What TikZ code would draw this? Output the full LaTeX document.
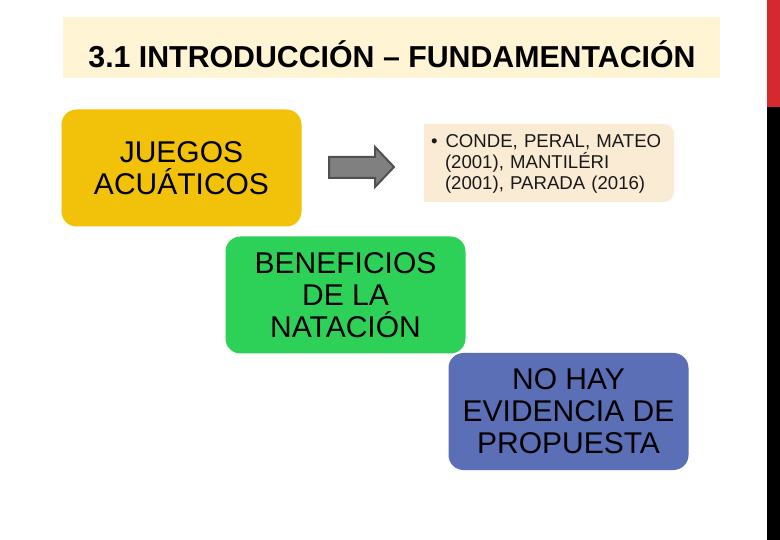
\documentclass[tikz,border=0pt]{standalone}
\usepackage{fontspec}
\setmainfont{Liberation Sans}
\usetikzlibrary{backgrounds}
\definecolor{titleCream}{HTML}{FFF4D4}
\definecolor{juegoYellow}{HTML}{F2C10A}
\definecolor{benefGreen}{HTML}{2ED158}
\definecolor{propBlue}{HTML}{5B6FB6}
\definecolor{citePeach}{HTML}{FAEBD4}
\definecolor{barRed}{HTML}{D42A2F}
\definecolor{arrowGray}{HTML}{808080}
\definecolor{arrowEdge}{HTML}{505050}
\begin{document}
\begin{tikzpicture}[x=1pt,y=-1pt,
    slideBig/.style={rounded corners=15pt,inner sep=0pt,align=center,
        minimum width=240pt,minimum height=117pt,
        font=\fontsize{30}{32}\selectfont},
    slideCite/.style={inner sep=7pt,text width=236pt,align=left,
        minimum width=250pt,minimum height=78pt,
        font=\fontsize{18.6}{21}\selectfont,text=black!90},
    slideArrow/.style={fill=arrowGray,draw=arrowEdge,line width=2pt},
]
\useasboundingbox (0,0) rectangle (780,540);
% Side bar
\fill[barRed] (767,0) rectangle (780,107);
\fill[black] (767,107) rectangle (780,540);
% Title
\fill[titleCream] (63,17) rectangle (720,78);
\node[anchor=base,inner sep=0pt,font=\bfseries\fontsize{30.3}{36}\selectfont] (title) at (392,68)
    {3.1 INTRODUCCIÓN – FUNDAMENTACIÓN};
% Boxes
\node[slideBig,fill=juegoYellow] (juegos) at (181.5,168) {JUEGOS\\ACUÁTICOS};
\node[slideBig,fill=benefGreen] (benef) at (345.5,295) {BENEFICIOS\\DE LA\\NATACIÓN};
\node[slideBig,fill=propBlue] (prop) at (568.5,411.5) {NO HAY\\EVIDENCIA DE\\PROPUESTA};
% Citation
\node[slideCite] (cite) at (549,164)
    {\hangindent=14pt\hangafter=1\textbullet\hspace{8pt}CONDE, PERAL, MATEO\newline
    (2001), MANTILÉRI\newline (2001), PARADA (2016)\par};
\begin{pgfonlayer}{background}
\fill[white] (0,0) rectangle (780,540);
\fill[citePeach] (424,124) [rounded corners=10pt] -- (674,124)
    -- (674,202) [sharp corners] -- (424,202) -- cycle;
\end{pgfonlayer}
% Arrow
\draw[slideArrow] (329,157) -- (375,157) -- (375,147) -- (394,167)
    -- (375,187) -- (375,178) -- (329,178) -- cycle;
\end{tikzpicture}
\end{document}
